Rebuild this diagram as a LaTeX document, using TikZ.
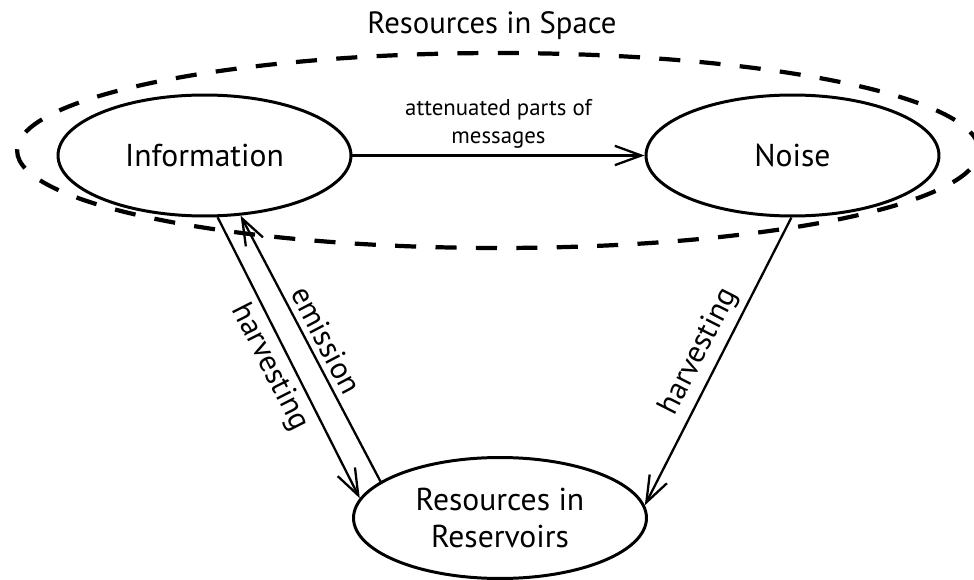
\documentclass[tikz,border=0pt]{standalone}
\usepackage{fontspec}
\setmainfont{PT Sans}
\usepackage{tikz}
\usetikzlibrary{shapes.geometric,arrows.meta}

\tikzset{
  pool/.style = {draw, ellipse, line width=1.7pt, minimum width=5.86cm,
    minimum height=2.42cm, inner sep=0pt, align=center,
    font=\fontsize{18}{21}\selectfont},
  flow/.style = {line width=1.3pt,
    -{Straight Barb[length=15pt,width=11pt,line width=1.3pt]}},
  flowlabel/.style = {font=\fontsize{17.5}{20}\selectfont, sloped, midway}
}

\begin{document}
\begin{tikzpicture}[x=0.02cm, y=0.02cm]
\useasboundingbox (0,0) rectangle (974,579);
\node (title) at (492,553) {\fontsize{17.5}{20}\selectfont Resources in Space};
\draw[line width=2.4pt, dash pattern=on 12pt off 11pt]
 (498,428.5) ellipse [x radius=9.62cm, y radius=1.95cm];
\node[pool] (info) at (204.5,423.5) {Information};
\node[pool] (noise) at (792.5,423.5) {Noise};
\node[pool] (res) at (500,61) {Resources in\\Reservoirs};
\draw[flow] (info) -- node[above, align=center, font=\fontsize{13}{16}\selectfont]
 (msg) {attenuated parts of\\messages} (noise);
\draw[flow] (info.-78) -- node[flowlabel, below] (harv1) {harvesting} (res.172);
\draw[flow] (res.163) -- node[flowlabel, above] (emit) {emission} (info.-59);
\draw[flow] (noise.-91) -- node[flowlabel, above] (harv2) {harvesting} (res.5);
\end{tikzpicture}
\end{document}
